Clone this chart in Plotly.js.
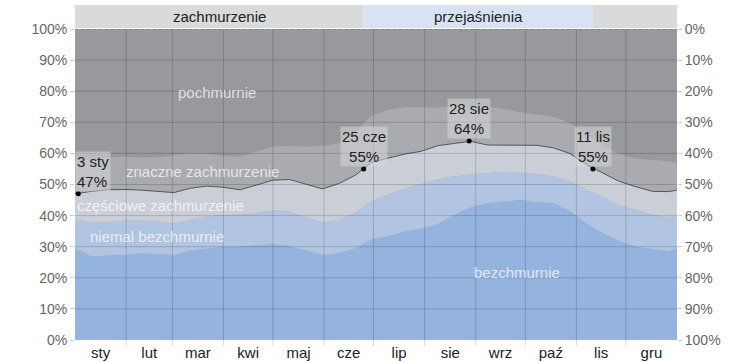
<!DOCTYPE html>
<html>
<head>
<meta charset="utf-8">
<script src="https://cdn.plot.ly/plotly-3.0.1.min.js"></script>
<style>html,body{margin:0;padding:0;background:#fff;}#chart{width:753px;height:362px;}</style>
</head>
<body>
<div id="chart"></div>
<script>
// Day of year (0 = 1 Jan)
const days = [0,10,20,30,40,50,60,70,80,90,100,110,120,130,140,150,160,170,180,190,200,210,220,230,240,250,260,270,280,290,300,310,320,330,340,350,360,365];
// Cumulative boundaries (% of time, from the bottom)
const clearTop = [29.5,26.8,27.2,27.3,27.9,27.6,27.3,28.8,29.5,30.0,30.0,30.3,30.8,30.2,28.8,27.3,27.9,29.4,32.5,33.4,35.0,35.8,37.2,40.2,42.7,44.0,44.5,45.0,44.3,44.0,41.5,37.5,34.3,31.8,30.0,29.2,28.5,29.5];
const mostlyClearTop = [38.8,37.8,37.8,38.4,38.4,38.2,37.5,38.6,39.6,40.2,40.3,40.8,41.6,41.2,39.6,37.8,38.6,40.9,44.6,46.8,48.6,50.3,51.6,52.6,53.2,53.6,54.1,53.8,53.4,52.6,51.0,48.3,46.0,43.3,41.8,40.3,39.2,39.6];
const partlyCloudyTop = [47.0,47.8,48.3,48.4,48.2,47.8,47.4,48.8,49.5,49.1,48.3,49.8,51.4,51.6,50.0,48.6,50.3,53.0,57.2,58.6,59.8,60.7,62.5,63.2,63.9,62.7,62.6,62.6,62.6,61.8,60.0,56.4,53.6,51.0,49.3,47.8,47.7,48.2];
const mostlyCloudyTop = [58.1,58.4,58.6,58.9,58.7,58.8,59.4,60.0,59.8,59.2,59.0,60.5,62.2,62.4,62.2,62.5,63.2,67.0,72.2,74.0,74.8,74.8,74.7,75.3,75.3,75.0,74.3,73.2,72.4,71.8,69.8,66.0,62.5,59.8,58.4,58.0,57.5,57.1];

const monthNames = ['sty','lut','mar','kwi','maj','cze','lip','sie','wrz','paź','lis','gru'];
const monthLengths = [31,28,31,30,31,30,31,31,30,31,30,31];
const yTicks = [0,10,20,30,40,50,60,70,80,90,100];

// Highlighted points
const markDays = [2,175,239,314];
const markLabels = ['3 sty','25 cze','28 sie','11 lis'];
const markValues = [47,55,64,55];

// Seasons band
const seasonStarts = [0,175,314];
const seasonEnds = [175,314,365];
const seasonNames = ['zachmurzenie','przejaśnienia',''];
const seasonColors = ['#d9dadc','#d7e3f3','#d9dadc'];

// Band labels
const bandNames = ['pochmurnie','znaczne zachmurzenie','częściowe zachmurzenie','niemal bezchmurnie','bezchmurnie'];
const bandLabelDay = [86,77,52,50,268];
const bandLabelVal = [79.7,54.2,43.2,33.4,21.6];

const C = {
  overcast:'#97999d', mostlyCloudy:'#a9abaf', partly:'#cacfd7', mostlyClear:'#b1c5e2', clear:'#94b3df'
};
const FONT = 'Liberation Sans, Arial, sans-serif';

const monthStarts = [];
const monthMids = [];
let acc = 0;
monthLengths.forEach(function(l){ monthStarts.push(acc); monthMids.push(acc + l/2); acc += l; });

function area(y, color, fill){
  return {x: days, y: y, type:'scatter', mode:'lines', line:{width:0, color:color}, fill:fill, fillcolor:color, hoverinfo:'skip', showlegend:false};
}

const traces = [
  area(clearTop, C.clear, 'tozeroy'),
  area(mostlyClearTop, C.mostlyClear, 'tonexty'),
  area(partlyCloudyTop, C.partly, 'tonexty'),
  area(mostlyCloudyTop, C.mostlyCloudy, 'tonexty'),
  {x: days, y: partlyCloudyTop, type:'scatter', mode:'lines', line:{width:1, color:'#55575b'}, hoverinfo:'skip', showlegend:false},
  {x: markDays, y: markValues, type:'scatter', mode:'markers', marker:{size:5, color:'#000'}, hoverinfo:'skip', showlegend:false},
  {x: [0], y: [0], yaxis:'y2', type:'scatter', mode:'markers', marker:{opacity:0}, hoverinfo:'skip', showlegend:false}
];

const shapes = [];
const gridColor = 'rgba(0,0,0,0.17)';
yTicks.forEach(function(v){
  if (v === 0 || v === 100) return;
  shapes.push({type:'line', xref:'x', yref:'y', x0:0, x1:365, y0:v, y1:v, line:{color:gridColor, width:1}, layer:'above'});
});
shapes.push({type:'line', xref:'x', yref:'y', x0:0, x1:365, y0:100, y1:100, line:{color:'rgba(0,0,0,0.25)', width:1, dash:'dot'}, layer:'above'});
monthStarts.forEach(function(d, i){
  if (i === 0) return;
  shapes.push({type:'line', xref:'x', yref:'y', x0:d, x1:d, y0:0, y1:100, line:{color:gridColor, width:1}, layer:'above'});
  shapes.push({type:'line', xref:'x', yref:'paper', x0:d, x1:d, y0:-0.018, y1:0, line:{color:'#d8d8d8', width:1}, layer:'above'});
});
seasonStarts.forEach(function(s, i){
  shapes.push({type:'rect', xref:'x', yref:'paper', x0:s, x1:seasonEnds[i], y0:1.003, y1:1.077, fillcolor:seasonColors[i], line:{width:0}, layer:'above'});
});

const annotations = [];
seasonStarts.forEach(function(s, i){
  if (!seasonNames[i]) return;
  annotations.push({x:(s+seasonEnds[i])/2, y:1.04, xref:'x', yref:'paper', text:seasonNames[i], showarrow:false, font:{size:15, color:'#222', family:FONT}, xanchor:'center', yanchor:'middle'});
});
bandNames.forEach(function(n, i){
  annotations.push({x:bandLabelDay[i], y:bandLabelVal[i], xref:'x', yref:'y', text:n, showarrow:false, font:{size:15, color:'rgba(255,255,255,0.72)', family:FONT}, xanchor:'center', yanchor:'middle'});
});
markDays.forEach(function(d, i){
  annotations.push({x:d, y:markValues[i], xref:'x', yref:'y', text:markLabels[i] + '<br>' + markValues[i] + '%', showarrow:false,
    align: i === 0 ? 'left' : 'center', xanchor: i === 0 ? 'left' : 'center', xshift: i === 0 ? -3 : 0, yanchor:'bottom', yshift:2,
    bgcolor:'rgba(214,215,218,0.55)', borderpad:1,
    font:{size:15, color:'#222', family:FONT}});
});

const tickFont = {size:14, color:'#666', family:FONT};
const layout = {
  width:753, height:362,
  margin:{l:75, r:76, t:29, b:22, pad:0},
  paper_bgcolor:'#ffffff',
  plot_bgcolor:C.overcast,
  showlegend:false,
  xaxis:{range:[0,365], tickvals:monthMids, ticktext:monthNames, ticks:'', showgrid:false, zeroline:false, showline:false, fixedrange:true, tickfont:{size:15, color:'#222', family:FONT}, ticklabelstandoff:2},
  yaxis:{range:[0,100], tickvals:yTicks, ticktext:yTicks.map(function(v){return v + '%';}), ticks:'outside', ticklen:4, tickcolor:'#cccccc', showgrid:false, zeroline:false, showline:false, fixedrange:true, tickfont:tickFont},
  yaxis2:{range:[100,0], overlaying:'y', side:'right', anchor:'x', tickvals:yTicks, ticktext:yTicks.map(function(v){return v + '%';}), ticks:'outside', ticklen:4, tickcolor:'#cccccc', showgrid:false, zeroline:false, showline:false, fixedrange:true, tickfont:tickFont},
  shapes:shapes,
  annotations:annotations
};

Plotly.newPlot('chart', traces, layout, {staticPlot:true, displayModeBar:false});
</script>
</body>
</html>
